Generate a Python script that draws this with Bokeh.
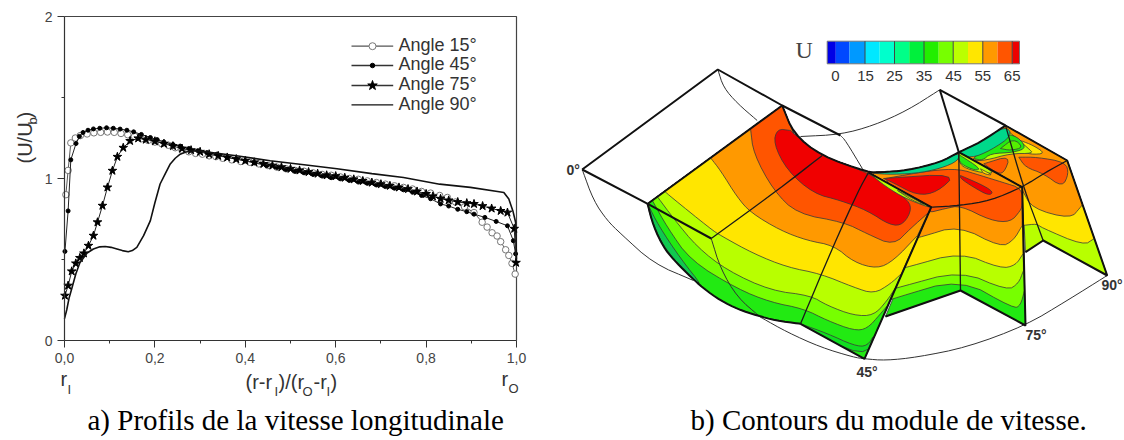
from bokeh.plotting import figure
from bokeh.models import Label, Range1d, FixedTicker
from bokeh.embed import file_html
from bokeh.resources import INLINE

# ---------- profile chart data ----------
x_ticks = [0.0, 0.2, 0.4, 0.6, 0.8, 1.0]
x_tick_labels = ["0,0", "0,2", "0,4", "0,6", "0,8", "1,0"]
x_minor = [0.1, 0.3, 0.5, 0.7, 0.9]
y_ticks = [0, 1, 2]
y_minor = [0.5, 1.5]

r15 = [.003,.008,.014,.024,.035,.05,.065,.08,.095,.11,.125,.14,.155,.17,.185,.2,.215,.23,.245,.26,.275,.29,.305,.32,.335,.35,.37,.39,.41,.43,.45,.47,.49,.51,.53,.55,.57,.59,.61,.63,.65,.67,.69,.71,.73,.75,.77,.79,.81,.83,.847,.865,.885,.906,.924,.935,.946,.957,.965,.976,.983,.99,.997]
u15 = [.9,1.05,1.22,1.25,1.265,1.275,1.282,1.285,1.287,1.285,1.278,1.27,1.26,1.245,1.235,1.225,1.215,1.205,1.19,1.175,1.165,1.155,1.15,1.14,1.135,1.125,1.115,1.105,1.1,1.09,1.08,1.07,1.06,1.05,1.045,1.035,1.025,1.02,1.01,1.0,.995,.985,.975,.965,.955,.945,.935,.92,.91,.895,.883,.855,.825,.79,.73,.70,.665,.645,.61,.56,.525,.476,.41]
r45 = [.001,.008,.014,.0255,.033,.041,.052,.064,.078,.093,.108,.123,.138,.153,.17,.19,.205,.22,.24,.256,.275,.295,.315,.337,.36,.38,.40,.42,.448,.47,.49,.51,.53,.55,.57,.59,.61,.63,.65,.67,.69,.71,.73,.75,.77,.79,.81,.832,.85,.87,.89,.906,.93,.955,.98,.993,.998]
u45 = [.55,.80,1.115,1.216,1.26,1.284,1.298,1.306,1.31,1.313,1.31,1.305,1.298,1.288,1.272,1.253,1.24,1.225,1.21,1.2,1.185,1.172,1.16,1.15,1.13,1.12,1.108,1.096,1.08,1.068,1.056,1.045,1.035,1.025,1.015,1.005,.998,.988,.978,.97,.96,.95,.94,.93,.915,.895,.875,.843,.83,.81,.795,.78,.76,.735,.708,.616,.535]
r75 = [.001,.008,.016,.025,.034,.043,.053,.064,.073,.084,.095,.106,.117,.13,.145,.163,.18,.2,.22,.24,.26,.28,.3,.32,.34,.36,.38,.4,.42,.44,.46,.48,.5,.52,.54,.56,.58,.6,.62,.64,.66,.68,.7,.72,.74,.76,.78,.8,.815,.832,.85,.87,.89,.906,.925,.945,.965,.98,.995,.999]
u75 = [.277,.339,.427,.476,.51,.538,.585,.647,.73,.832,.945,1.048,1.134,1.19,1.232,1.248,1.24,1.23,1.215,1.2,1.185,1.175,1.165,1.15,1.14,1.13,1.12,1.11,1.1,1.09,1.08,1.07,1.06,1.05,1.04,1.03,1.02,1.015,1.005,.995,.985,.975,.965,.955,.945,.935,.92,.905,.89,.875,.865,.855,.848,.843,.83,.815,.80,.79,.69,.48]
r90 = [0,.005,.01,.016,.025,.034,.05,.064,.078,.09,.103,.116,.128,.141,.15,.16,.175,.19,.2,.2115,.223,.234,.245,.256,.267,.278,.3,.38,.455,.53,.603,.68,.75,.83,.898,.958,.972,.983,.992,.998,1.0]
u90 = [.135,.19,.26,.32,.41,.48,.54,.565,.578,.58,.575,.565,.555,.548,.555,.575,.647,.74,.85,.966,1.03,1.09,1.125,1.15,1.162,1.17,1.17,1.14,1.11,1.085,1.06,1.03,1.006,.965,.945,.92,.914,.873,.8,.73,.5]

legend_labels = ["Angle 15°", "Angle 45°", "Angle 75°", "Angle 90°"]
y_title = ["(U/U", "b", ")"]
x_title = ["(r-r", "I", ")/(r", "O", "-r", "I", ")"]
caption_a = "a) Profils de la vitesse longitudinale"
caption_b = "b) Contours du module de vitesse."

# ---------- colour scale ----------
cb_edges = [826.7, 835.3, 849, 864.5, 879.2, 894, 908.7, 923.5, 938.2, 952.7, 967.5, 982.3, 997, 1011.7, 1019]
cb_colors = ["#0000e6", "#0048ff", "#0099ff", "#00e8ff", "#00ffcc", "#00ff88", "#00f03c",
             "#22ee00", "#77ff00", "#bbff00", "#ffe600", "#ff9900", "#ff5500", "#ee0000"]
cb_ticks = [835, 865, 894, 923.5, 953, 982.3, 1011.7]
cb_labels = ["0", "15", "25", "35", "45", "55", "65"]
cb_separators = [864.5, 894, 923.5, 952.7, 982.3, 1011.7]

GREEN, LIME, YG, YEL, ORA, DEEP, RED, TEAL = "#22ea12", "#77ff00", "#b8ff00", "#ffe600", "#ff9900", "#ff5500", "#f00000", "#00d88a"

# ---------- traced slices of the 3-D view (picture coordinates) ----------
s1_base = [(647,203),(781.7,105),(793,133),(820,155),(868,172),(930.7,206.7),(864,358.3),(800,323.3)]
s1_arc = [(800,323.3),(775,320),(756.7,315),(738,309),(720,300),(703,288),(686.7,273),(673,259),(663,246.7),(653,226),(647,203)]
s1_top = [(930.7,206.7),(868,172),(820,155),(793,133),(781.7,105)]
s1_lime = [(651.7,199.7),(666.7,226.7),(690,260),(736.7,288.3),(770,301.7),(803.3,308.3),(826.7,320),(853.3,330),(866.7,328.3),(880,313.3),(887,305)]
s1_yg = [(656.7,196),(673.3,218.3),(696.7,246.7),(726.7,270),(770,290),(810,295),(826.7,305),(853.3,315),(873.3,315),(886.7,300),(895.3,286.7)]
s1_yel = [(664,190.6),(670,196),(710,228.3),(720,235),(753.3,253.3),(786.7,266.7),(820,273.3),(853,286.7),(873.3,293.3),(890,283.3),(901,273)]
s1_ora = [(710,157.3),(720,170),(736.7,196.7),(750,212),(780,230),(806.7,240),(833.3,245),(853.3,261.7),(876.7,268.3),(893.3,260),(917,235)]
s1_deep = [(750,128),(753,153),(773,190),(796.7,213.3),(843.3,221.7),(866.7,233.3),(893,245),(910,228),(928.5,211.7)]
s1_red = [(790,130),(776.7,128.3),(773,143),(786.7,170),(813,193),(840,200),(866.7,210),(890,225),(903,224),(911.7,208),(905,197),(868,172),(820,155),(793,133),(790,130)]
s1_corner_yg = [(868,172),(930.7,206.7),(926,206),(905,198),(885,186),(868,172)]
s1_corner_yel = [(897,190),(928,206),(912,200),(897,190)]
s1_strip = [(647,203),(650,217),(663,246.7),(686.7,273),(703,287),(680,258),(658,225),(647,203)]
s1_low = [(800,323.3),(826.7,333),(853.3,345),(866.7,346),(875,332),(864,358.3),(800,323.3)]

s2_base = [(958.3,151.7),(1021.7,186.7),(1025,325),(960,290),(885,316),(930.7,206.7),(868,172),(880,171.7),(906.7,170),(940,161.7)]
s2_top = [(1021.7,186.7),(958.3,151.7),(940,161.7),(906.7,170),(880,171.7),(868,172)]
s2_lime = [(888,300),(893,298),(960,278),(1013,308),(1020,305),(1024,290)]
s2_yg = [(890,289),(898,287),(960,270),(1006.7,290),(1018,283),(1023,270)]
s2_yel = [(900,268),(906.7,266.7),(960,251.7),(1000,268),(1015,265),(1022.7,253)]
s2_ora = [(912,238),(920,236.7),(958,225),(1000,246.7),(1013,240),(1021.7,225)]
s2_deep = [(885,178),(930,170),(958.3,168.3),(980,175),(1001.7,181.7),(1021.7,188),(1021.7,205),(1020,210),(1010,221.7),(990,220),(960,205),(945,208),(925,213),(900,200),(885,178)]
s2_red_a = [(883,178),(956.7,173),(936.7,191.7),(916.7,195),(891.7,181.7),(883,178)]
s2_red_b = [(960,175),(983,185),(993,191.7),(988,195),(973,186.7),(960,178),(960,175)]
s2_arc_teal = [(868,172),(880,171.7),(906.7,170),(940,161.7),(958.3,151.7),(958.3,160),(940,168),(915,173),(885,174),(868,172)]
s2_feat_yg = [(958.3,151.7),(995,172),(985,173),(965,168),(958.3,162),(958.3,151.7)]
s2_feat_yel = [(980,168.3),(993,175),(983,173.3),(980,168.3)]
s2_feat_green = [(958.3,154),(980,168),(975,170),(963,165),(958.3,160),(958.3,154)]

s3_base = [(958.3,151.7),(980,141.7),(1005,125),(1066.7,160),(1106.7,275),(1042.7,240),(1025,251.7),(1021.7,186.7)]
s3_top = [(1066.7,160),(1005,125),(980,141.7),(958.3,151.7)]
s3_yel = [(1022,225),(1036.7,223.3),(1040,226.7),(1083,245),(1093.8,238)]
s3_ora = [(1022,190),(1031.7,208),(1070,218.3),(1080,206.7),(1082,204)]
s3_deep_a = [(1018.3,156.7),(1036.7,156.7),(1065,161.7),(1068.3,173.3),(1061.7,186.7),(1043.3,173.3),(1025,166.7),(1018.3,156.7)]
s3_deep_b = [(983.3,163.3),(1010,155),(1003.3,173.3),(995,171.7),(983.3,163.3)]
s3_feat_yel = [(1020,140),(1033,145),(1045,153),(1030,154),(1020,150),(1020,140)]
s3_feat_yg = [(1007,130),(1028,148),(1033,153),(1010,153),(985,160),(970,160),(1007,130)]
s3_feat_green = [(973,158),(995,137),(1013,133),(1027,147),(1013,152),(990,153),(982,160),(973,158)]
s3_feat_lime = [(1000,148),(1013,138),(1023,147),(1010,150),(1000,148)]
s3_arc_teal = [(958.3,151.7),(980,141.7),(1005,125),(1012,135),(990,150),(970,158),(958.3,151.7)]

thick_sharp = [
    [(581.7,169),(717.3,69),(781.7,105),(840,135)],
    [(581.7,169),(647.3,203.3),(781.7,105)],
    [(647.3,203.3),(710.7,238)],
    [(868,172),(930.7,206.7),(864,358.3),(800,323.3)],
    [(958.3,151.7),(1021.7,186.7),(1025,325),(960,290),(885,316)],
    [(939.3,89.3),(1005,125),(1066.7,160),(1106.7,275),(1042.7,240),(1025,251.7)],
    [(939.3,89.3),(958.3,151.7)],
]
thick_curved = [
    s1_arc,
    [(958.3,151.7),(980,141.7),(1005,125)],
    [(781.7,105),(793,133),(820,155),(868,172),(880,171.7),(906.7,170),(940,161.7),(958.3,151.7)],
]
medium_lines = [
    [(800,323.3),(833,245),(858,190),(868,172)],
    [(710.7,238),(776.7,190),(821.7,155)],
    [(958.3,151.7),(960,290)],
    [(1005,125),(1023,187),(1042.7,240)],
    [(930.7,206.7),(960,205),(990,200),(1021.7,186.7),(1045,172),(1066.7,160)],
]
thin_lines = [
    [(710.7,238),(720,268),(736.7,296.7),(760,316.7)],
    [(581.7,169),(593,200),(606.7,220),(620,233),(653,263),(693,280)],
    [(760,316.7),(786.7,331.7),(820,346.7),(853,356.7),(864,358.3),(885,360),(916.7,356.7),(966.7,346.7),(1025,325),(1066.7,300),(1106.7,275)],
    [(717.3,69),(723,87),(737,103),(756.7,120)],
    [(800,136),(840,134),(873,125),(906.7,110),(939.3,89.3)],
    [(840,135),(845,140),(863,170)],
]
angle_labels = [("0°", 566, 175), ("45°", 856, 377), ("75°", 1025, 340), ("90°", 1101, 290)]


def smooth(pts, rounds=2):
    """Corner cutting keeping both end points, so traced contours read as curves."""
    for _ in range(rounds):
        out = [pts[0]]
        for (a, b), (c, d) in zip(pts[:-1], pts[1:]):
            out.append((0.75 * a + 0.25 * c, 0.75 * b + 0.25 * d))
            out.append((0.25 * a + 0.75 * c, 0.25 * b + 0.75 * d))
        out.append(pts[-1])
        pts = out
    return pts


# ---------- one figure, whole window as its frame ----------
FW, FH = 1124, 440
XL, XR, YT, YB = 64, 516, 16, 340   # where the chart's axes lie in the window
sx = (XR - XL) / 1.0
sy = (YB - YT) / 2.0
p = figure(width=FW, height=FH, output_backend="svg", toolbar_location=None,
           x_range=Range1d(-XL / sx, (FW - XL) / sx), y_range=Range1d((YB - FH) / sy, YB / sy),
           min_border=0, min_border_left=0, min_border_right=0, min_border_top=0, min_border_bottom=0,
           outline_line_color=None)
p.extra_x_ranges = {"px": Range1d(0, FW)}
p.extra_y_ranges = {"px": Range1d(FH, 0)}
p.grid.visible = False
P = dict(x_range_name="px", y_range_name="px")

p.xaxis.ticker = FixedTicker(ticks=x_ticks, minor_ticks=x_minor)
p.xaxis.major_label_overrides = dict(zip(x_ticks, x_tick_labels))
p.yaxis.ticker = FixedTicker(ticks=y_ticks, minor_ticks=y_minor)
p.xaxis.fixed_location = 0
p.yaxis.fixed_location = 0
p.xaxis.bounds = (0, 1)
p.yaxis.bounds = (0, 2)
for ax in (p.xaxis, p.yaxis):
    ax.axis_line_color = "#333333"
    ax.axis_line_width = 1.2
    ax.major_tick_line_color = "#333333"
    ax.minor_tick_line_color = "#333333"
    ax.major_tick_in = 0
    ax.major_tick_out = 7
    ax.minor_tick_in = 0
    ax.minor_tick_out = 3
    ax.major_label_text_font = "Liberation Sans"
    ax.major_label_text_font_size = "14px"
    ax.major_label_text_color = "#444444"

# top and right sides of the chart box
p.line([0, 1, 1], [2, 2, 0], line_color="#444444", line_width=1.2)

p.line(r15, u15, line_color="#555555", line_width=1)
p.scatter(r15, u15, marker="circle", size=6.5, fill_color="white", line_color="#777777", line_width=1)
p.line(r45, u45, line_color="#222222", line_width=1)
p.scatter(r45, u45, marker="circle", size=4, fill_color="black", line_color="black")
p.line(r75, u75, line_color="#222222", line_width=1)
p.scatter(r75, u75, marker="star", size=9, fill_color="black", line_color="black")
p.line(r90, u90, line_color="#111111", line_width=1.6)


def lab(x, y, t, size, font="Liberation Sans", color="#333333", style="normal", angle=0.0, align="left"):
    # bokeh puts an alphabetic Label about 0.42 of the size lower or further right than asked
    if angle == 0.0:
        y = y - 0.42 * size
    else:
        x = x - 0.42 * size
    p.add_layout(Label(x=x, y=y, text=t, text_font=font, text_font_size=f"{size}px", text_color=color,
                       text_font_style=style, text_baseline="alphabetic", text_align=align, angle=angle,
                       x_range_name="px", y_range_name="px"))


def poly(pts, color, lc="#3a3a3a", lw=0.8):
    p.patch([a for a, b in pts], [b for a, b in pts], fill_color=color, line_color=lc, line_width=lw, **P)


def stroke(pts, color, lw):
    p.line([a for a, b in pts], [b for a, b in pts], line_color=color, line_width=lw, **P)


# legend, row by row at the reference's tighter pitch
legend_rows = [45.7, 65, 85, 104.3]
legend_line = ["#555555", "#333333", "#333333", "#111111"]
for t, yy, c in zip(legend_labels, legend_rows, legend_line):
    p.line([351, 392.7], [yy, yy], line_color=c, line_width=1.3, **P)
    lab(398, yy + 6.5, t, 18)
p.scatter([372], [legend_rows[0]], marker="circle", size=7, fill_color="white", line_color="#777777", line_width=1, **P)
p.scatter([372], [legend_rows[1]], marker="circle", size=4.5, fill_color="black", line_color="black", **P)
p.scatter([372], [legend_rows[2]], marker="star", size=10, fill_color="black", line_color="black", **P)

# axis titles and captions
lab(33, 163, y_title[0], 20, angle=1.5708)
lab(37, 124, y_title[1], 13, angle=1.5708)
lab(33, 118, y_title[2], 20, angle=1.5708)
lab(60, 387, "r", 20)
lab(67, 394, "I", 13)
lab(501, 387, "r", 20)
lab(508, 393, "O", 13)
xpos = [(245, 20, 390), (274, 13, 396), (278, 20, 390), (302, 13, 396), (313, 20, 390), (326, 13, 396), (330, 20, 390)]
for t, (x, s, y) in zip(x_title, xpos):
    lab(x, y, t, s)
lab(87, 432, caption_a, 29, font="Liberation Serif", color="black")
lab(690, 432, caption_b, 29, font="Liberation Serif", color="black")

# colour bar
for i, c in enumerate(cb_colors):
    p.quad(left=cb_edges[i], right=cb_edges[i + 1], top=40.7, bottom=63.3, fill_color=c, line_color=None, **P)
p.quad(left=cb_edges[0], right=cb_edges[-1], top=40.7, bottom=63.3, fill_color=None, line_color="#777777", line_width=1, **P)
p.segment(x0=cb_separators, y0=[40.7] * 6, x1=cb_separators, y1=[63.3] * 6, line_color="#444444", line_width=1, **P)
for x, t in zip(cb_ticks, cb_labels):
    lab(x, 82, t, 15, align="center")
lab(795, 60, "U", 24, font="Liberation Serif", color="#444444")

# slice at 90 degrees
poly(s3_base, YG)
poly(smooth(s3_yel) + s3_top, YEL)
poly(smooth(s3_ora) + s3_top, ORA)
poly(smooth(s3_deep_a), DEEP)
poly(smooth(s3_deep_b), DEEP)
poly(smooth(s3_feat_yel), YEL)
poly(smooth(s3_feat_yg), YG)
poly(smooth(s3_feat_green), GREEN)
poly(smooth(s3_feat_lime), "#55f000")
poly(smooth(s3_arc_teal), TEAL)
# slice at 75 degrees
poly(s2_base, GREEN)
poly(smooth(s2_lime) + s2_top, LIME)
poly(smooth(s2_yg) + s2_top, YG)
poly(smooth(s2_yel) + s2_top, YEL)
poly(smooth(s2_ora) + s2_top, ORA)
poly(smooth(s2_deep), DEEP)
poly(smooth(s2_red_a), RED)
poly(smooth(s2_red_b), RED)
poly(smooth(s2_arc_teal), TEAL)
poly(smooth(s2_feat_yg), YG)
poly(smooth(s2_feat_yel), YEL)
poly(smooth(s2_feat_green), GREEN)
# slice at 45 degrees
poly(s1_base + smooth(s1_arc), GREEN)
poly(smooth(s1_low), "#10dd20")
poly(smooth(s1_lime) + s1_top, LIME)
poly(smooth(s1_yg) + s1_top, YG)
poly(smooth(s1_yel) + s1_top, YEL)
poly(smooth(s1_ora) + s1_top, ORA)
poly(smooth(s1_deep) + s1_top, DEEP)
poly(smooth(s1_red), RED)
poly(smooth(s1_corner_yg), YG)
poly(smooth(s1_corner_yel), YEL)
poly(smooth(s1_strip), "#10c850")

for ln in thin_lines:
    stroke(smooth(ln), "#333333", 1)
for ln in medium_lines:
    stroke(smooth(ln), "#1a1a1a", 1.3)
for ln in thick_sharp:
    stroke(ln, "#111111", 2)
for ln in thick_curved:
    stroke(smooth(ln), "#111111", 2)

for t, x, y in angle_labels:
    lab(x, y, t, 14, style="bold")

open("out.html", "w").write(file_html(p, INLINE))
